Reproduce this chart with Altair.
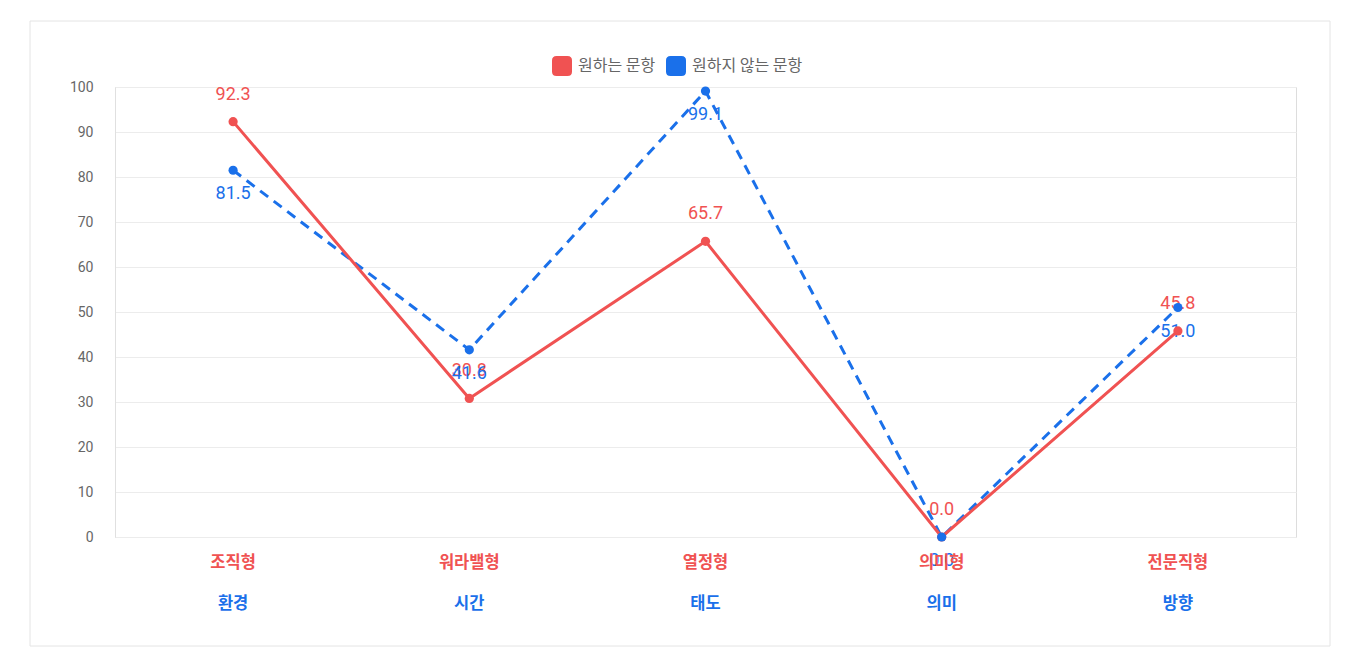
import altair as alt
import pandas as pd

types = ["조직형", "워라밸형", "열정형", "의미형", "전문직형"]
subs = ["환경", "시간", "태도", "의미", "방향"]
want = [92.3, 30.8, 65.7, 0.0, 45.8]
unwant = [81.5, 41.6, 99.1, 0.0, 51.0]
series_names = ["원하는 문항", "원하지 않는 문항"]

RED = "#F05252"
BLUE = "#1A70EA"
FONT = "Roboto, 'Noto Sans CJK KR', sans-serif"
KFONT = "'Noto Sans CJK KR', sans-serif"

rows = []
for i, t in enumerate(types):
    rows.append({"cat": t, "sub": subs[i], "series": series_names[0], "value": want[i]})
    rows.append({"cat": t, "sub": subs[i], "series": series_names[1], "value": unwant[i]})
df = pd.DataFrame(rows)

W, H = 1181, 450

xenc = alt.X("cat:N", sort=types, scale=alt.Scale(type="point", padding=0.5), axis=None)
yenc = alt.Y("value:Q", scale=alt.Scale(domain=[0, 100], nice=False),
             axis=alt.Axis(values=list(range(0, 101, 10)), title=None, ticks=False,
                           labelPadding=22, labelColor="#666666", labelFontSize=14,
                           labelFont=FONT, domain=True, domainColor="#e0e0e0",
                           gridColor="#ececec", gridWidth=1))

base = alt.Chart(df)

card = alt.Chart(alt.Data(values=[{}])).mark_rect(fillOpacity=0, stroke="#e4e4e4", strokeWidth=1).encode(
    x=alt.value(-85), x2=alt.value(1215), y=alt.value(-66), y2=alt.value(559))

red_f = alt.datum.series == series_names[0]
blue_f = alt.datum.series == series_names[1]

blue_line = base.transform_filter(blue_f).mark_line(strokeWidth=3, strokeDash=[10, 7], color=BLUE).encode(x=xenc, y=yenc)
red_line = base.transform_filter(red_f).mark_line(strokeWidth=3, color=RED).encode(x=xenc, y=yenc)

red_text = base.transform_filter(red_f).mark_text(dy=-27, fontSize=18, font=FONT, color=RED).encode(
    x=xenc, y=yenc, text=alt.Text("value:Q", format=".1f"))
blue_text = base.transform_filter(blue_f).mark_text(dy=24, fontSize=18, font=FONT, color=BLUE).encode(
    x=xenc, y=yenc, text=alt.Text("value:Q", format=".1f"))

legend_path = "M-0.55,-1 H0.55 Q1,-1 1,-0.55 V0.55 Q1,1 0.55,1 H-0.55 Q-1,1 -1,0.55 V-0.55 Q-1,-1 -0.55,-1 Z"

points = base.mark_point(filled=True, size=85, opacity=1, shape="circle").encode(
    x=xenc, y=yenc,
    color=alt.Color("series:N", sort=series_names,
                    scale=alt.Scale(domain=series_names, range=[RED, BLUE]),
                    legend=alt.Legend(title=None, orient="none", legendX=437, legendY=-31,
                                      direction="horizontal", symbolType=legend_path,
                                      symbolSize=400, symbolStrokeWidth=0,
                                      labelFont=KFONT, labelFontSize=16, labelColor="#666666",
                                      labelOffset=6, columnPadding=10, padding=0)))

cat_labels = base.transform_filter(red_f).mark_text(fontSize=16.5, font=KFONT, fontWeight=600, color=RED, baseline="middle").encode(
    x=xenc, y=alt.value(476), text="cat:N")
sub_labels = base.transform_filter(red_f).mark_text(fontSize=16.5, font=KFONT, fontWeight="bold", color=BLUE, baseline="middle").encode(
    x=xenc, y=alt.value(517), text="sub:N")

chart = alt.layer(card, red_text, blue_text, cat_labels, sub_labels, blue_line, red_line, points).properties(
    width=W, height=H,
    autosize=alt.AutoSizeParams(type="none"),
    padding={"left": 107, "top": 79, "right": 56, "bottom": 120},
).configure_view(stroke=None).configure(background="white")

chart.save("out.html", embed_options={"renderer": "svg", "actions": False})
